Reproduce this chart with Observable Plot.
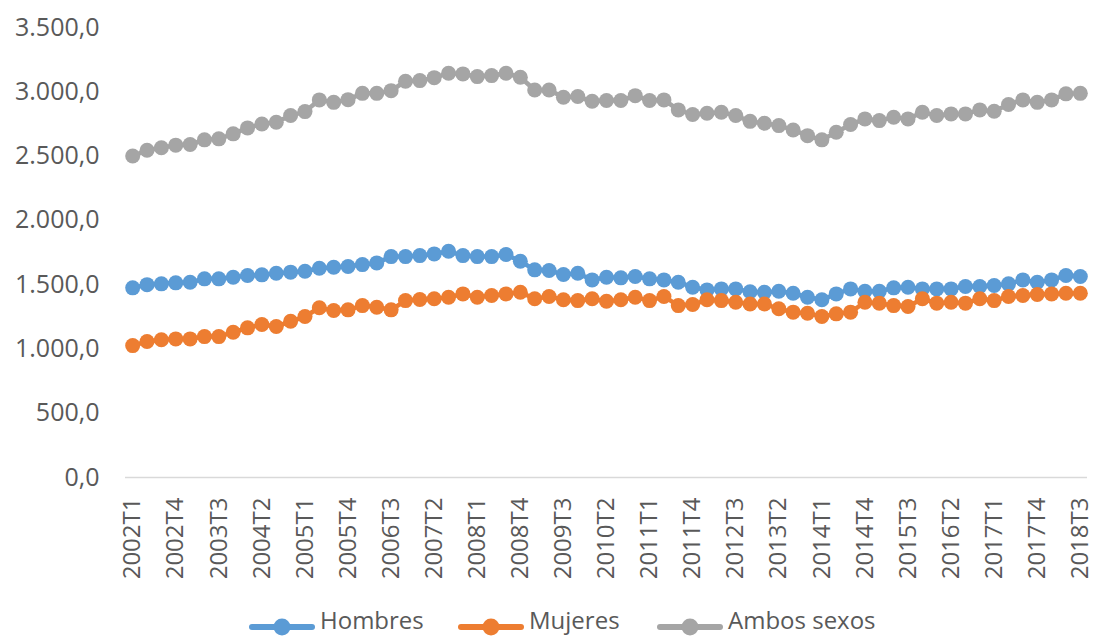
<!DOCTYPE html>
<html>
<head>
<meta charset="utf-8">
<script src="https://cdn.jsdelivr.net/npm/d3@7"></script>
<script src="https://cdn.jsdelivr.net/npm/@observablehq/plot@0.6"></script>
<style>
  html, body { margin: 0; padding: 0; background: #fff; }
  #chart { width: 1094px; height: 637px; overflow: hidden; position: relative; font-family: "Open Sans", sans-serif; }
  #legend { position: absolute; left: 0; top: 600px; width: 1094px; height: 37px; }
  .item { position: absolute; top: 17px; height: 20px; }
  .item svg { position: absolute; left: 0; top: 0; }
  .item span { position: absolute; left: 71px; top: -14px; font-size: 24px; line-height: 33px; color: #595959; white-space: nowrap; }
</style>
</head>
<body>
<div id="chart"></div>
<script>
// Categories (quarters 2002T1 .. 2018T3)
const years = d3.range(2002, 2019);
const quarters = [];
for (const y of years) for (const t of [1, 2, 3, 4]) quarters.push(`${y}T${t}`);
quarters.splice(quarters.indexOf("2018T4"), 1);

const tickLabels = ["2002T1","2002T4","2003T3","2004T2","2005T1","2005T4","2006T3","2007T2","2008T1","2008T4","2009T3","2010T2","2011T1","2011T4","2012T3","2013T2","2014T1","2014T4","2015T3","2016T2","2017T1","2017T4","2018T3"];
const yTicks = [0, 500, 1000, 1500, 2000, 2500, 3000, 3500];

const hombres = [1475,1500,1506,1514,1519,1545,1545,1558,1571,1576,1589,1597,1604,1628,1635,1641,1656,1669,1718,1718,1726,1739,1760,1726,1718,1718,1734,1682,1615,1610,1579,1589,1537,1558,1553,1563,1545,1537,1519,1480,1459,1467,1467,1445,1441,1449,1433,1402,1382,1428,1467,1449,1449,1475,1480,1467,1467,1467,1485,1485,1493,1506,1537,1519,1537,1571,1563];
const mujeres = [1026,1058,1071,1078,1078,1096,1096,1130,1164,1190,1174,1215,1252,1320,1299,1304,1337,1324,1304,1376,1385,1390,1402,1428,1402,1415,1428,1441,1390,1408,1382,1376,1390,1371,1382,1402,1376,1408,1337,1345,1382,1376,1363,1350,1350,1312,1286,1278,1252,1273,1286,1363,1356,1337,1330,1390,1356,1363,1356,1390,1376,1408,1415,1423,1428,1433,1433];
const ambos = [2500,2545,2565,2585,2590,2626,2634,2673,2719,2750,2763,2815,2846,2937,2918,2939,2988,2988,3009,3082,3087,3110,3144,3139,3118,3126,3144,3113,3014,3014,2957,2963,2926,2932,2932,2970,2932,2937,2859,2823,2833,2841,2815,2770,2755,2737,2703,2659,2626,2685,2745,2789,2776,2802,2789,2841,2815,2828,2828,2859,2849,2901,2937,2918,2937,2984,2988];

const seriesNames = ["Hombres", "Mujeres", "Ambos sexos"];
const seriesColors = ["#5B9BD5", "#ED7D31", "#A5A5A5"];
const seriesValues = [hombres, mujeres, ambos];

const esLocale = d3.formatLocale({decimal: ",", thousands: ".", grouping: [3], currency: ["", " €"]});
const fmt = esLocale.format(",.1f");

const n = quarters.length;
const marks = [Plot.ruleY([0], {stroke: "#D9D9D9", strokeWidth: 1.3})];
seriesValues.forEach((vals, k) => {
  const rows = quarters.map((q, i) => ({i, q, v: vals[i]}));
  marks.push(Plot.line(rows, {x: "i", y: "v", stroke: seriesColors[k], strokeWidth: 4.5}));
  marks.push(Plot.dot(rows, {x: "i", y: "v", r: 7.5, fill: seriesColors[k], stroke: "none"}));
});
marks.push(Plot.axisY({ticks: yTicks, tickSize: 0, tickPadding: 26, tickFormat: fmt, fontSize: 25}));
marks.push(Plot.axisX({
  ticks: tickLabels.map(t => quarters.indexOf(t)),
  tickFormat: i => quarters[i],
  tickSize: 0, tickPadding: 20, tickRotate: -90, fontSize: 24
}));

const plot = Plot.plot({
  width: 1094,
  height: 600,
  marginLeft: 125,
  marginRight: 7,
  marginTop: 27,
  marginBottom: 123,
  style: {fontFamily: "Open Sans", fontSize: "24px", color: "#595959", background: "#fff"},
  x: {type: "linear", domain: [-0.5, n - 0.5], label: null},
  y: {domain: [0, 3500], label: null},
  marks
});
const chart = document.getElementById("chart");
chart.appendChild(plot);

const legend = document.createElement("div");
legend.id = "legend";
const lefts = [249, 458, 657];
seriesNames.forEach((name, k) => {
  const item = document.createElement("div");
  item.className = "item";
  item.style.left = lefts[k] + "px";
  item.innerHTML = `<svg width="66" height="20"><line x1="3" x2="63" y1="10" y2="10" stroke="${seriesColors[k]}" stroke-width="6" stroke-linecap="round"/><circle cx="33" cy="10" r="8.5" fill="${seriesColors[k]}"/></svg><span>${name}</span>`;
  legend.appendChild(item);
});
chart.appendChild(legend);
</script>
</body>
</html>
